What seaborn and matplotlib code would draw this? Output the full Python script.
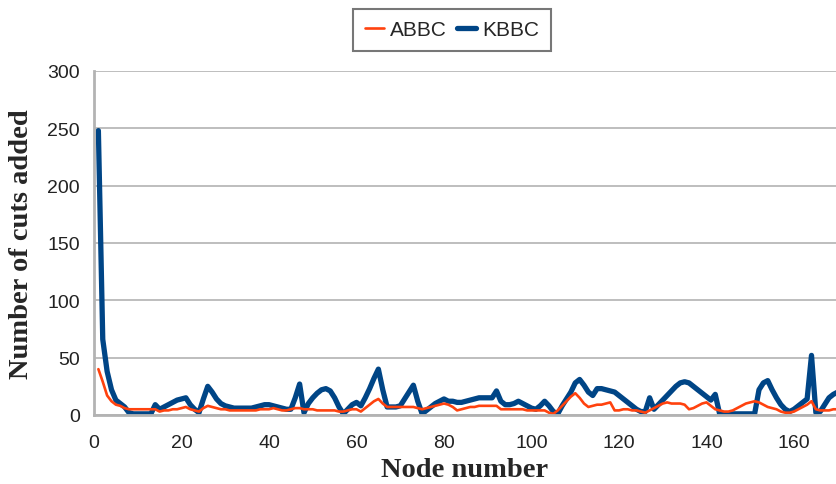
import numpy as np
import pandas as pd
import matplotlib
matplotlib.use("Agg")
import matplotlib.pyplot as plt
import seaborn as sns
from matplotlib.lines import Line2D

# cuts added per node (node 1..170)
abbc = [40, 29, 17, 12, 9, 8, 6, 5, 5, 5,
        5, 5, 5, 5, 3, 4, 4, 5, 5, 6,
        7, 5, 4, 3, 6, 8, 7, 6, 5, 5,
        4, 4, 4, 4, 4, 4, 4, 5, 5, 5,
        6, 5, 4, 4, 5, 6, 6, 5, 5, 5,
        4, 4, 4, 4, 4, 3, 3, 4, 5, 5,
        3, 6, 9, 12, 14, 10, 7, 7, 7, 7,
        7, 7, 7, 6, 5, 6, 7, 8, 9, 10,
        9, 7, 4, 5, 6, 7, 7, 8, 8, 8,
        8, 8, 5, 5, 5, 5, 5, 5, 4, 4,
        4, 4, 4, 2, 1, 4, 8, 12, 16, 19,
        15, 10, 7, 8, 9, 9, 10, 11, 4, 4,
        5, 5, 4, 4, 3, 2, 4, 6, 8, 10,
        11, 10, 10, 10, 9, 5, 6, 8, 10, 11,
        8, 5, 4, 3, 3, 4, 6, 8, 10, 11,
        12, 11, 9, 7, 6, 5, 3, 2, 2, 3,
        5, 7, 9, 12, 5, 4, 4, 4, 5, 5]

kbbc = [248, 66, 38, 22, 13, 10, 7, 2, 1, 1,
        1, 1, 1, 9, 5, 7, 9, 11, 13, 14,
        15, 9, 5, 2, 14, 25, 20, 14, 10, 8,
        7, 6, 6, 6, 6, 6, 7, 8, 9, 9,
        8, 7, 6, 5, 5, 15, 27, 2, 10, 15,
        19, 22, 23, 21, 15, 7, 1, 5, 9, 11,
        8, 15, 23, 32, 40, 22, 7, 7, 7, 8,
        14, 20, 26, 12, 1, 4, 7, 10, 12, 14,
        12, 12, 11, 11, 12, 13, 14, 15, 15, 15,
        15, 21, 12, 9, 9, 10, 12, 10, 8, 6,
        5, 8, 12, 8, 3, 1, 8, 14, 20, 28,
        31, 26, 20, 17, 23, 23, 22, 21, 20, 17,
        14, 11, 8, 5, 3, 3, 15, 5, 9, 13,
        17, 21, 25, 28, 29, 28, 25, 22, 19, 16,
        13, 18, 1, 1, 1, 1, 1, 1, 1, 1,
        1, 22, 28, 30, 22, 15, 9, 5, 3, 5,
        8, 11, 14, 52, 2, 3, 9, 15, 18, 20]

nodes = np.arange(1, len(kbbc) + 1)
y_ticks = [0, 50, 100, 150, 200, 250, 300]
x_ticks = [0, 20, 40, 60, 80, 100, 120, 140, 160]

df = pd.DataFrame({"node": np.concatenate([nodes, nodes]),
                   "cuts": abbc + kbbc,
                   "method": ["ABBC"] * len(abbc) + ["KBBC"] * len(kbbc)})

colors = {"ABBC": "#ff420e", "KBBC": "#004586"}
widths = {"ABBC": 1.9, "KBBC": 3.8}

sns.set_style("white")
plt.rcParams["font.family"] = ["Liberation Sans", "DejaVu Sans"]

fig = plt.figure(figsize=(8.36, 4.85), dpi=100)
ax = fig.add_axes([94 / 836, 1 - 416 / 485, 1 - 94 / 836, (416 - 72) / 485])

# KBBC underneath, ABBC on top
for name in ["KBBC", "ABBC"]:
    sns.lineplot(data=df[df["method"] == name], x="node", y="cuts",
                 color=colors[name], linewidth=widths[name], ax=ax,
                 legend=False, solid_joinstyle="round")

ax.set_xlim(0, 169.6)
ax.set_ylim(0, 300)
ax.set_yticks(y_ticks)
ax.set_xticks(x_ticks)
ax.yaxis.grid(True, color="#b3b3b3", linewidth=1.2)
ax.set_axisbelow(True)
for side in ["top", "right"]:
    ax.spines[side].set_visible(False)
for side in ["left", "bottom"]:
    ax.spines[side].set_color("#b3b3b3")
    ax.spines[side].set_linewidth(2)
ax.tick_params(axis="both", which="major", length=5, width=1.5, color="#b3b3b3",
               labelsize=14, labelcolor="#222222", direction="out")
ax.tick_params(axis="x", pad=9)
ax.tick_params(axis="y", pad=5)

lab_font = dict(family=["Liberation Serif", "DejaVu Serif"], weight="bold", size=20.5)
ax.set_xlabel("Node number", fontdict=lab_font, labelpad=4)
ax.set_ylabel("Number of cuts added", fontdict=lab_font, labelpad=10)

handles = [Line2D([], [], color=colors["ABBC"], linewidth=widths["ABBC"]),
           Line2D([], [], color=colors["KBBC"], linewidth=widths["KBBC"])]
leg = fig.legend(handles, ["ABBC", "KBBC"], loc="center",
                 bbox_to_anchor=(452 / 836, 1 - 31 / 485), ncol=2,
                 frameon=True, fancybox=False, fontsize=15, handlelength=0.9,
                 handletextpad=0.3, columnspacing=0.5, borderpad=0.55)
leg.get_frame().set_edgecolor("#555555")
leg.get_frame().set_linewidth(1.5)

fig.savefig("out.png", dpi=100)
